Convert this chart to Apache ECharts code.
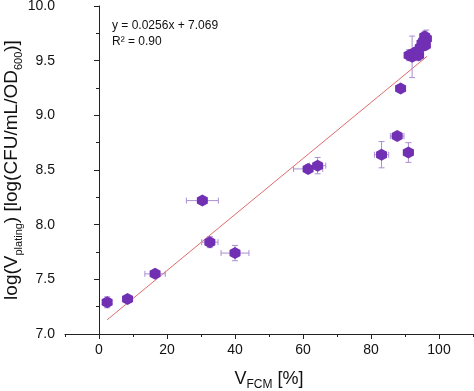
<!DOCTYPE html>
<html>
<head>
<meta charset="utf-8">
<script src="https://cdn.jsdelivr.net/npm/echarts@6/dist/echarts.min.js"></script>
<style>html,body{margin:0;padding:0;background:#fff}#c{width:474px;height:391px}</style>
</head>
<body>
<div id="c"></div>
<script>
// Data
const xVals = [2.4, 8.4, 16.5, 30.4, 32.6, 40.0, 61.5, 64.3, 83.1, 87.7, 91.0, 88.7, 91.2, 92.1, 93.2, 94.0, 94.5, 95.0, 95.5, 96.0, 96.3, 95.8, 93.8, 92.6];
const yVals = [7.29, 7.32, 7.55, 8.22, 7.84, 7.74, 8.51, 8.54, 8.64, 8.81, 8.66, 9.245, 9.55, 9.535, 9.57, 9.55, 9.62, 9.66, 9.68, 9.64, 9.70, 9.72, 9.59, 9.57];
const xErr  = [0.5, 0.8, 3.0, 4.7, 2.4, 4.1, 4.3, 2.4, 2.1, 2.0, 1.5, 1.0, 0.8, 1.0, 0.8, 1.0, 0.8, 1.0, 0.8, 1.0, 0.8, 1.0, 0.8, 0.8];
const yErr  = [0.05, 0.03, 0.02, 0.0, 0.05, 0.07, 0.03, 0.075, 0.12, 0.03, 0.09, 0.02, 0.05, 0.19, 0.03, 0.05, 0.04, 0.05, 0.05, 0.04, 0.08, 0.05, 0.04, 0.04];
const fitX = [2.4, 96.5];
const fitY = [7.13, 9.54];
const xMajorTicks = [0, 20, 40, 60, 80, 100];
const fitText = 'y = 0.0256x + 7.069';
const r2Text = 'R² = 0.90';

const FONT = '"Liberation Sans", Arial, sans-serif';
const purple = '#7130b3';
const errColor = '#a98fd2';

const points = xVals.map((x, i) => [x, yVals[i]]);
const errData = xVals.map((x, i) => [x, yVals[i], xErr[i], yErr[i]]);
const fitData = fitX.map((x, i) => [x, fitY[i]]);

const hex = 'path://M0,-10 L8.66,-5 L8.66,5 L0,10 L-8.66,5 L-8.66,-5 Z';

const chart = echarts.init(document.getElementById('c'), null, {renderer: 'canvas'});
chart.setOption({
  animation: false,
  backgroundColor: '#fff',
  textStyle: {fontFamily: FONT},
  grid: {left: 65, right: 1, top: 6, bottom: 57, containLabel: false, outerBoundsMode: 'none'},
  xAxis: [{
    type: 'value', min: -10, max: 110, interval: 10,
    axisLine: {show: true, lineStyle: {color: '#222', width: 1}},
    axisTick: {show: true, inside: false, length: 3, lineStyle: {color: '#222'}},
    axisLabel: {
      fontSize: 14, color: '#111', fontFamily: FONT, margin: 9,
      customValues: xMajorTicks, formatter: v => String(v)
    },
    splitLine: {show: false},
    name: '{n|V}{s|FCM}{n| [%]}',
    nameLocation: 'middle', nameGap: 32, nameMoveOverlap: false,
    nameTextStyle: {
      fontFamily: FONT,
      rich: {
        n: {fontSize: 18, color: '#111', fontFamily: FONT, lineHeight: 22, verticalAlign: 'bottom'},
        s: {fontSize: 12, color: '#111', fontFamily: FONT, lineHeight: 12, verticalAlign: 'bottom', padding: [0, 0, -3, 0]}
      }
    }
  }, {
    type: 'value', min: -10, max: 110, position: 'bottom', offset: 0,
    axisLine: {show: false},
    axisTick: {show: true, inside: false, length: 5, customValues: xMajorTicks, lineStyle: {color: '#222'}},
    axisLabel: {show: false},
    splitLine: {show: false}
  }],
  yAxis: {
    type: 'value', min: 7, max: 10, interval: 0.5,
    axisLine: {show: true, lineStyle: {color: '#222', width: 1}},
    axisTick: {show: true, inside: false, length: 5, lineStyle: {color: '#222'}},
    minorTick: {show: true, splitNumber: 2, length: 3, lineStyle: {color: '#222'}},
    axisLabel: {fontSize: 14, color: '#111', fontFamily: FONT, margin: 10, formatter: v => v.toFixed(1)},
    splitLine: {show: false},
    name: '{n|log(V}{s|plating}{n|) [log(CFU/mL/OD}{s|600}{n|)]}',
    nameLocation: 'middle', nameGap: 44, nameMoveOverlap: false,
    nameTextStyle: {
      fontFamily: FONT,
      rich: {
        n: {fontSize: 19, color: '#111', fontFamily: FONT, lineHeight: 22, verticalAlign: 'bottom'},
        s: {fontSize: 11, color: '#111', fontFamily: FONT, lineHeight: 11, verticalAlign: 'bottom', padding: [0, 0, -3, 0]}
      }
    }
  },
  graphic: [
    {type: 'text', left: 112, top: 20, style: {text: fitText, font: '12px ' + FONT, fill: '#111'}},
    {type: 'text', left: 112, top: 36, style: {text: r2Text, font: '12px ' + FONT, fill: '#111'}}
  ],
  series: [{
    type: 'line', data: fitData, symbol: 'none', silent: true,
    lineStyle: {color: '#e06a6a', width: 1}, z: 1
  }, {
    type: 'custom', data: errData, z: 2, silent: true,
    renderItem: function (params, api) {
      const x = api.value(0), y = api.value(1), ex = api.value(2), ey = api.value(3);
      const children = [];
      const cap = 3;
      const st = {stroke: errColor, lineWidth: 1};
      if (ex > 0) {
        const a = api.coord([x - ex, y]), b = api.coord([x + ex, y]);
        children.push({type: 'line', shape: {x1: a[0], y1: a[1], x2: b[0], y2: b[1]}, style: st});
        children.push({type: 'line', shape: {x1: a[0], y1: a[1] - cap, x2: a[0], y2: a[1] + cap}, style: st});
        children.push({type: 'line', shape: {x1: b[0], y1: b[1] - cap, x2: b[0], y2: b[1] + cap}, style: st});
      }
      if (ey > 0) {
        const a = api.coord([x, y - ey]), b = api.coord([x, y + ey]);
        children.push({type: 'line', shape: {x1: a[0], y1: a[1], x2: b[0], y2: b[1]}, style: st});
        children.push({type: 'line', shape: {x1: a[0] - cap, y1: a[1], x2: a[0] + cap, y2: a[1]}, style: st});
        children.push({type: 'line', shape: {x1: b[0] - cap, y1: b[1], x2: b[0] + cap, y2: b[1]}, style: st});
      }
      return {type: 'group', children: children};
    }
  }, {
    type: 'scatter', data: points, symbol: hex, symbolSize: [11, 12], z: 3,
    itemStyle: {color: purple, opacity: 1}
  }]
});
</script>
</body>
</html>
